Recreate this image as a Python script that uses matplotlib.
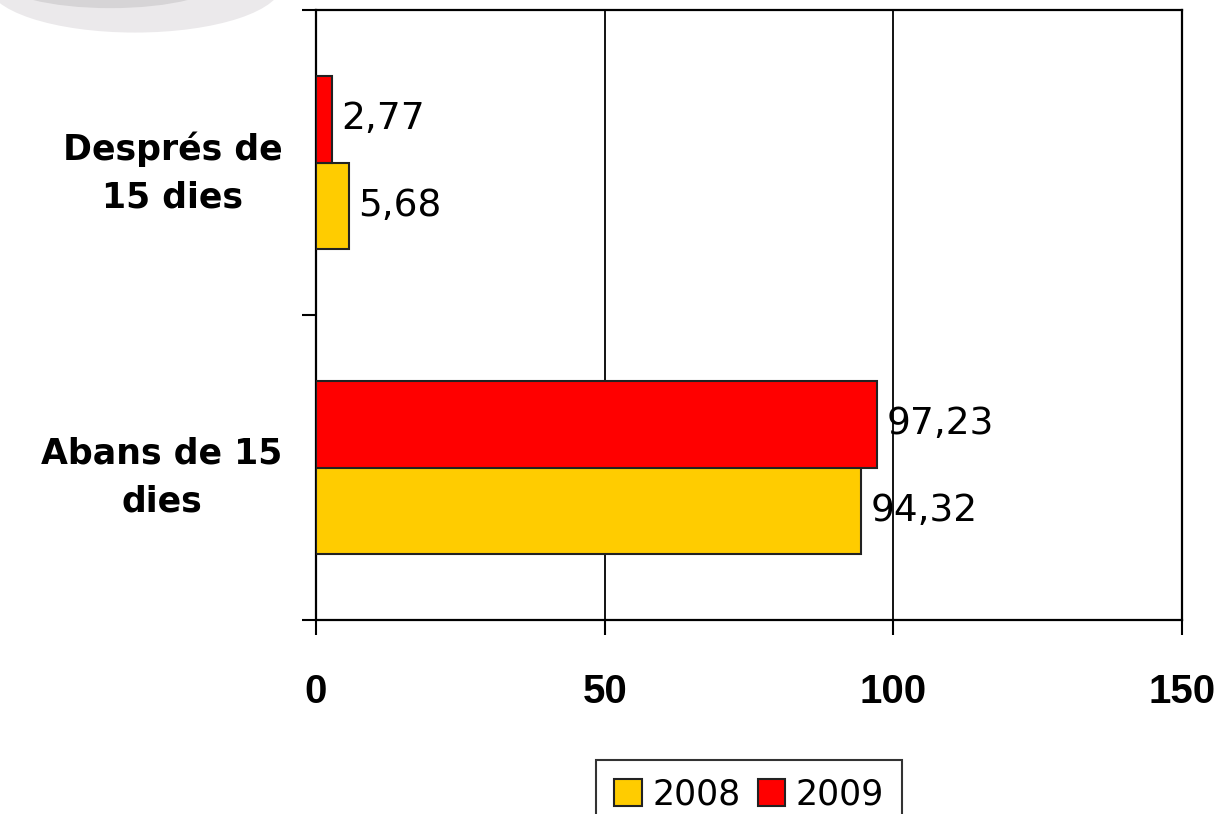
import numpy as np
import matplotlib
matplotlib.use("Agg")
import matplotlib.pyplot as plt
import matplotlib.patches as mpatches

# ── data ──────────────────────────────────────────────────────────────
categories = ["Abans de 15\ndies", "Després de\n15 dies"]
years = ["2008", "2009"]
vals_2008 = [94.32, 5.68]
vals_2009 = [97.23, 2.77]
labels_2008 = ["94,32", "5,68"]
labels_2009 = ["97,23", "2,77"]
x_ticks = [0, 50, 100, 150]

COL_2008 = "#FFCC00"
COL_2009 = "#FF0000"

fig = plt.figure(figsize=(12.27, 8.14), dpi=100)
fig.patch.set_facecolor("white")

# grey swoosh left over from the page logo (top-left corner)
fig.patches.append(mpatches.Ellipse((0.11, 1.02), 0.24, 0.12, transform=fig.transFigure,
                                    facecolor="#ebe9eb", edgecolor="none", zorder=0))
fig.patches.append(mpatches.Ellipse((0.09, 1.025), 0.18, 0.07, transform=fig.transFigure,
                                    facecolor="#d6d4d6", edgecolor="none", zorder=0))

ax = fig.add_axes([316 / 1227, 1 - 620 / 814, (1182 - 316) / 1227, 610 / 814])

y = np.arange(len(categories))
h = 0.285
b08 = ax.barh(y - h / 2, vals_2008, height=h, color=COL_2008, edgecolor="#222222",
              linewidth=1.5, label=years[0], zorder=3)
b09 = ax.barh(y + h / 2, vals_2009, height=h, color=COL_2009, edgecolor="#222222",
              linewidth=1.5, label=years[1], zorder=3)

for bars, labs in ((b08, labels_2008), (b09, labels_2009)):
    for bar, lab in zip(bars, labs):
        ax.annotate(lab, (bar.get_width(), bar.get_y() + bar.get_height() / 2),
                    xytext=(7, 0), textcoords="offset points", va="center", ha="left",
                    fontsize=27, family="DejaVu Sans", zorder=4)

ax.set_xlim(0, 150)
ax.set_ylim(-0.5, len(categories) - 0.5)
ax.set_xticks(x_ticks)
ax.set_xticklabels([str(t) for t in x_ticks], fontsize=29, fontweight="bold",
                   family=["Liberation Sans Narrow", "Liberation Sans", "DejaVu Sans"])
ax.tick_params(axis="x", length=11, width=1.5, pad=27)

ax.set_yticks(np.arange(-0.5, len(categories), 1.0))
ax.set_yticklabels([])
ax.set_yticks(y, minor=True)
ax.set_yticklabels(categories, minor=True, fontsize=25, fontweight="bold",
                   family="DejaVu Sans", linespacing=1.5)
for t in ax.get_yticklabels(minor=True):
    t.set_multialignment("center")
ax.tick_params(axis="y", which="major", length=10, width=1.5)
ax.tick_params(axis="y", which="minor", length=0, pad=24)

ax.grid(axis="x", color="black", linewidth=1.3, zorder=1)
for s in ax.spines.values():
    s.set_linewidth(1.6)
    s.set_color("black")

leg = ax.legend(handles=[b08, b09], labels=years, loc="upper center",
                bbox_to_anchor=(749 / 1227, 1 - 760 / 814), bbox_transform=fig.transFigure,
                ncol=2, fontsize=25, frameon=True, fancybox=False, edgecolor="black",
                handlelength=0.8, handleheight=0.8, handletextpad=0.3, columnspacing=0.5,
                borderpad=0.5, borderaxespad=0)
leg.get_frame().set_linewidth(1.5)

fig.savefig("out.png", dpi=100, facecolor="white")
